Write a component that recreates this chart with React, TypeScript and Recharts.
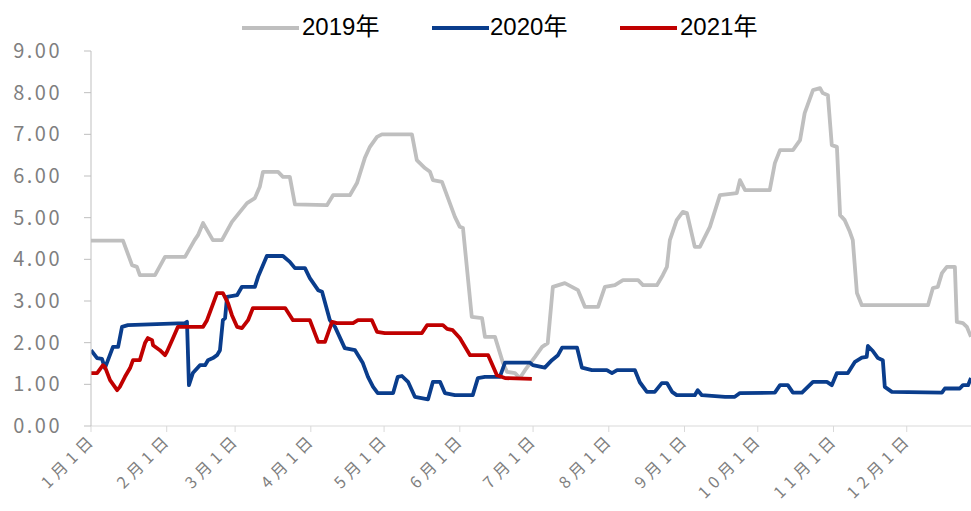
import { LineChart, Line, XAxis, YAxis } from "recharts";

// day of year -> price
const days2019 = [0, 13.1, 16.8, 18.8, 20, 26.2, 30.3, 38.5, 42.4, 43.8, 45.9, 49.9, 53.6, 57.7, 61, 63.9, 67.1, 69.1, 70.4, 76.6, 78.6, 81.4, 83.5, 96.6, 99.1, 106, 108.9, 112.1, 114.2, 117.1, 119.1, 131.4, 133.4, 136.7, 138.8, 140, 143.7, 149, 151, 152.3, 155.9, 160.1, 161.3, 165.4, 168.7, 170.3, 173.6, 175.6, 177.7, 181.8, 184.7, 187, 189.1, 194, 199.4, 202.2, 207.6, 210.4, 214.5, 217.8, 224, 226, 231.7, 234.1, 235.8, 237, 239.8, 242.3, 244, 247.2, 249.3, 253.4, 257.5, 264.4, 265.7, 267.8, 277.9, 280, 282.1, 287.4, 290.3, 292.2, 295.6, 298.5, 299.6, 301.7, 303.3, 305.4, 306.7, 308.6, 310.7, 311.9, 313.6, 315.6, 342.7, 344.7, 346.7, 348.4, 350.4, 353.7, 354.5, 357, 358.6, 360.3];
const price2019 = [4.45, 4.45, 3.86, 3.82, 3.62, 3.62, 4.06, 4.06, 4.46, 4.58, 4.87, 4.46, 4.46, 4.9, 5.14, 5.35, 5.47, 5.74, 6.1, 6.1, 5.98, 5.98, 5.32, 5.3, 5.54, 5.54, 5.83, 6.43, 6.7, 6.94, 7.0, 7.0, 6.38, 6.19, 6.1, 5.9, 5.86, 5.02, 4.78, 4.75, 2.62, 2.59, 2.14, 2.14, 1.51, 1.3, 1.27, 1.15, 1.34, 1.66, 1.9, 1.99, 3.34, 3.43, 3.26, 2.86, 2.86, 3.34, 3.38, 3.5, 3.5, 3.38, 3.38, 3.62, 3.82, 4.46, 4.94, 5.14, 5.11, 4.3, 4.3, 4.78, 5.54, 5.59, 5.9, 5.66, 5.66, 6.31, 6.62, 6.62, 6.86, 7.51, 8.06, 8.11, 7.99, 7.94, 6.74, 6.7, 5.06, 4.94, 4.66, 4.46, 3.19, 2.9, 2.9, 3.31, 3.34, 3.67, 3.82, 3.82, 2.5, 2.47, 2.38, 2.14];

const days2020 = [0, 2.5, 4.5, 5.7, 9, 11.1, 12.7, 15.1, 38.5, 39.3, 40.1, 41.7, 44.6, 46.7, 47.9, 49.9, 51.6, 52.8, 54, 54.9, 55.7, 59.8, 61.8, 67.1, 68.4, 72, 78.6, 81.4, 83.5, 87.6, 89.6, 93, 94.6, 97.8, 99.9, 103.9, 108.1, 111.3, 113.4, 115.5, 117.4, 123.7, 125.6, 127.3, 129.8, 132.6, 138, 140, 142.9, 144.9, 149, 156.3, 158.4, 161.3, 167.4, 169.5, 179.7, 180.9, 185.8, 188.7, 191.2, 192.9, 199, 201, 205.1, 211.2, 213.3, 215.4, 222.7, 224.7, 227.6, 230.8, 233.7, 235.8, 237.9, 239.8, 247.2, 248.4, 250.1, 259.6, 263.6, 265.7, 280, 282.1, 285.3, 287.4, 291.1, 295.6, 301.3, 303.3, 305.4, 309.9, 312.8, 315.6, 317.6, 318.1, 320.1, 322.2, 324.2, 325, 327.9, 348.4, 349.6, 355.7, 357, 359.1, 360.3];
const price2020 = [1.82, 1.63, 1.61, 1.39, 1.9, 1.9, 2.38, 2.42, 2.47, 2.5, 0.98, 1.27, 1.46, 1.46, 1.58, 1.63, 1.7, 1.82, 2.54, 2.59, 3.1, 3.14, 3.34, 3.34, 3.58, 4.08, 4.08, 3.94, 3.79, 3.79, 3.55, 3.26, 3.22, 2.54, 2.38, 1.87, 1.82, 1.51, 1.18, 0.94, 0.79, 0.79, 1.18, 1.2, 1.06, 0.7, 0.64, 1.06, 1.06, 0.79, 0.74, 0.74, 1.15, 1.18, 1.18, 1.52, 1.52, 1.46, 1.4, 1.58, 1.7, 1.88, 1.88, 1.4, 1.34, 1.34, 1.27, 1.34, 1.34, 1.05, 0.82, 0.82, 1.03, 1.03, 0.82, 0.74, 0.74, 0.86, 0.74, 0.7, 0.7, 0.79, 0.8, 0.98, 0.98, 0.8, 0.8, 1.06, 1.06, 0.98, 1.27, 1.27, 1.54, 1.64, 1.66, 1.92, 1.8, 1.63, 1.58, 0.94, 0.82, 0.8, 0.9, 0.9, 0.98, 0.98, 1.15];

const days2021 = [0, 2.5, 4.9, 5.7, 7.8, 10.7, 11.8, 13.9, 16, 17.2, 20, 22.1, 23.3, 25, 25.4, 28.2, 30.3, 31.1, 33.6, 35.6, 45.9, 47.5, 51.6, 54, 56.1, 57.7, 59.8, 61.8, 64.3, 66.3, 79.5, 82.7, 89.6, 93, 95.8, 98.7, 100.7, 107.3, 109.3, 115, 117.1, 120.3, 135.5, 137.6, 144.1, 145.8, 148.1, 151, 155.2, 162.6, 166.2, 169.5, 180.5];
const price2021 = [1.27, 1.27, 1.46, 1.42, 1.1, 0.86, 0.94, 1.18, 1.39, 1.58, 1.58, 1.99, 2.11, 2.06, 1.94, 1.82, 1.7, 1.78, 2.11, 2.38, 2.38, 2.54, 3.19, 3.19, 2.95, 2.66, 2.38, 2.35, 2.54, 2.83, 2.83, 2.54, 2.54, 2.02, 2.02, 2.5, 2.47, 2.47, 2.54, 2.54, 2.26, 2.23, 2.23, 2.42, 2.42, 2.33, 2.3, 2.11, 1.7, 1.7, 1.22, 1.15, 1.13];

const monthTicks = [0, 31, 59, 90, 120, 151, 181, 212, 243, 273, 304, 334];
const monthLabels = ["1月1日", "2月1日", "3月1日", "4月1日", "5月1日", "6月1日", "7月1日", "8月1日", "9月1日", "10月1日", "11月1日", "12月1日"];
const yTicks = [0, 1, 2, 3, 4, 5, 6, 7, 8, 9];

const seriesNames = ["2019年", "2020年", "2021年"];
const seriesColors = ["#bfbfbf", "#0a3d8c", "#c00000"];

const toPoints = (days: number[], prices: number[]) =>
  days.map((d, i) => ({ day: d, price: prices[i] }));

const series = [
  toPoints(days2019, price2019),
  toPoints(days2020, price2020),
  toPoints(days2021, price2021),
];

const MonthTick = (props: any) => {
  const { x, y, payload } = props;
  const label = monthLabels[monthTicks.indexOf(payload.value)];
  return (
    <g transform={`translate(${x + 2},${y + 2})`}>
      <text
        x={0}
        y={0}
        dy={6}
        textAnchor="end"
        transform="rotate(-45)"
        fill="#7f7f7f"
        fontSize={16}
        letterSpacing={5}
        fontFamily="'Noto Sans CJK SC', sans-serif"
      >
        {label}
      </text>
    </g>
  );
};

const PriceTick = (props: any) => {
  const { y, payload } = props;
  return (
    <text
      x={62}
      y={y}
      dy={7}
      textAnchor="end"
      fill="#7f7f7f"
      fontSize={20}
      letterSpacing={2.5}
      fontFamily="'Noto Sans CJK SC', sans-serif"
    >
      {payload.value.toFixed(2)}
    </text>
  );
};

const legendPos = [
  { lineX: 242, textX: 302 },
  { lineX: 432, textX: 490 },
  { lineX: 620, textX: 680 },
];

export default function App() {
  return (
    <div style={{ position: "relative", width: 971, height: 511, background: "#fff" }}>
      <style>{`body{margin:0}`}</style>

      {/* legend */}
      {seriesNames.map((name, i) => (
        <div key={name}>
          <div
            style={{
              position: "absolute",
              left: legendPos[i].lineX,
              top: 26,
              width: 57,
              height: 4,
              background: seriesColors[i],
            }}
          />
          <div
            style={{
              position: "absolute",
              left: legendPos[i].textX,
              top: 12,
              fontSize: 24,
              lineHeight: "30px",
              fontFamily: "'Liberation Sans', 'Noto Sans CJK SC', sans-serif",
              color: "#000",
            }}
          >
            {name}
          </div>
        </div>
      ))}

      <LineChart width={971} height={511} margin={{ top: 51, right: 0, bottom: 0, left: 0 }}>
        <XAxis
          type="number"
          dataKey="day"
          domain={[0, 360.3]}
          ticks={monthTicks}
          interval={0}
          allowDataOverflow
          height={85}
          stroke="#d9d9d9"
          tickSize={6}
          tick={<MonthTick />}
        />
        <YAxis
          type="number"
          domain={[0, 9]}
          ticks={yTicks}
          width={91}
          stroke="#bfbfbf"
          tickSize={7}
          tick={<PriceTick />}
        />
        {series.map((pts, i) => (
          <Line
            key={seriesNames[i]}
            data={pts}
            dataKey="price"
            name={seriesNames[i]}
            type="linear"
            stroke={seriesColors[i]}
            strokeWidth={3.8}
            strokeLinejoin="round"
            dot={false}
            isAnimationActive={false}
          />
        ))}
      </LineChart>
    </div>
  );
}
